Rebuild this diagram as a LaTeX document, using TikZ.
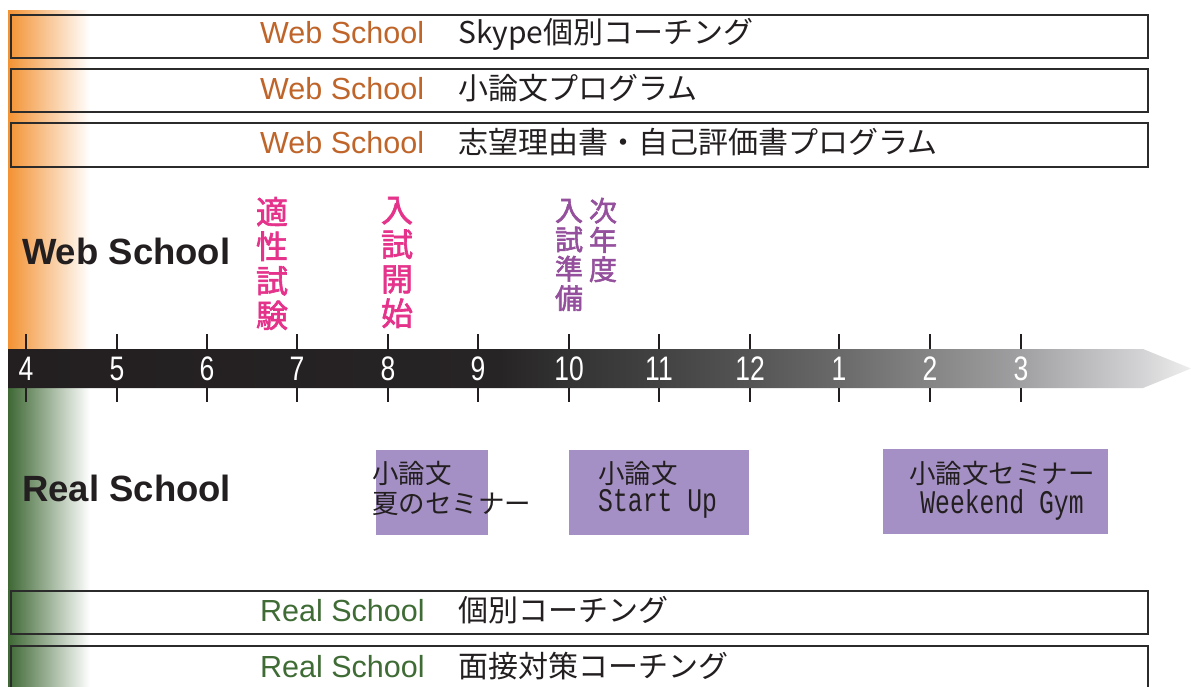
\documentclass[tikz,border=0pt]{standalone}
\usepackage{fontspec}
\setmainfont{Liberation Sans}
\newfontfamily\cjk{Noto Sans CJK JP}
\newfontfamily\cjkbold{Noto Sans CJK JP}[FakeBold=2]
\newfontfamily\numfont{Liberation Sans}[FakeStretch=0.78]
\newfontfamily\monofnt{Liberation Mono}[FakeStretch=0.75]
\definecolor{inkblack}{HTML}{231F20}
\definecolor{boxgray}{HTML}{2B2B2B}
\definecolor{weborange}{HTML}{C0652A}
\definecolor{realgreen}{HTML}{3F6B35}
\definecolor{bandorange}{HTML}{F39233}
\definecolor{bandgreen}{HTML}{3E6834}
\definecolor{hotpink}{HTML}{E5338B}
\definecolor{plum}{HTML}{94509C}
\definecolor{lavender}{HTML}{A590C5}
\definecolor{tb0}{HTML}{231F20}
\definecolor{tb1}{HTML}{272425}
\definecolor{tb2}{HTML}{333333}
\definecolor{tb3}{HTML}{424242}
\definecolor{tb4}{HTML}{555555}
\definecolor{tb5}{HTML}{6A6A6A}
\definecolor{tb6}{HTML}{858585}
\definecolor{tb7}{HTML}{A0A0A2}
\definecolor{tb8}{HTML}{D4D4D6}
\definecolor{tb9}{HTML}{EEEEEE}
\pgfdeclarehorizontalshading{timebar}{100bp}{color(0bp)=(tb0); color(25bp)=(tb0); color(45.8bp)=(tb1); color(48.7bp)=(tb2); color(52.5bp)=(tb3); color(56.4bp)=(tb4); color(60.2bp)=(tb5); color(64bp)=(tb6); color(67.8bp)=(tb7); color(73bp)=(tb8); color(75bp)=(tb9); color(100bp)=(tb9)}
\begin{document}
\begin{tikzpicture}[x=1pt,y=-1pt,
  rowbox/.style={draw=boxgray, line width=1.8pt, minimum width=1137, anchor=north west, inner sep=0},
  pbox/.style={fill=lavender, anchor=north west, inner sep=0},
  websch/.style={font=\fontsize{30.5}{36}\selectfont, text=weborange, anchor=base west, inner sep=0},
  realsch/.style={font=\fontsize{30.5}{36}\selectfont, text=realgreen, anchor=base west, inner sep=0},
  jp/.style={font=\cjk\fontsize{30}{36}\selectfont, text=inkblack, anchor=base west, inner sep=0},
  jpbox/.style={font=\cjk\fontsize{26.5}{30}\selectfont, text=inkblack, inner sep=0},
  monobox/.style={font=\monofnt\fontsize{33}{36}\selectfont, text=inkblack, inner sep=0},
  big/.style={font=\bfseries\fontsize{36.5}{40}\selectfont, text=inkblack, anchor=base west, inner sep=0},
  tickmark/.style={line width=1.2pt, draw=inkblack},
  num/.style={font=\numfont\fontsize{34}{36}\selectfont, text=white, inner sep=0},
  vpink/.style={font=\cjkbold\fontsize{32}{34.5}\selectfont, text=hotpink, align=center, inner sep=0},
  vplum/.style={font=\cjkbold\fontsize{28}{29.3}\selectfont, text=plum, align=center, inner sep=0}]
\clip (0,0) rectangle (1191,686);
\fill[white] (0,0) rectangle (1191,686);
% gradient bands
\fill[left color=bandorange, middle color=bandorange!55, right color=white] (8,10) rectangle (90,349);
\fill[left color=bandgreen, middle color=bandgreen!55, right color=white] (8,388) rectangle (90,690);
% Web School rows
\node[rowbox, minimum height=43] (b1) at (10,14) {};
\node[rowbox, minimum height=43] (b2) at (10,68) {};
\node[rowbox, minimum height=44] (b3) at (10,122) {};
\node[websch] (w1) at (260,43) {Web School};
\node[websch] (w2) at (260,99) {Web School};
\node[websch] (w3) at (260,153) {Web School};
\node[jp] (j1) at (458,43) {Skype個別コーチング};
\node[jp] (j2) at (458,99) {小論文プログラム};
\node[jp] (j3) at (458,153) {志望理由書・自己評価書プログラム};
% Real School rows
\node[rowbox, minimum height=43] (b4) at (10,590) {};
\node[rowbox, minimum height=60] (b5) at (10,645) {};
\node[realsch] (r1) at (260,621) {Real School};
\node[realsch] (r2) at (260,677) {Real School};
\node[jp] (j4) at (458,621) {個別コーチング};
\node[jp] (j5) at (458,677) {面接対策コーチング};
% big labels
\node[big] (webl) at (22,264) {Web School};
\node[big] (reall) at (22,501) {Real School};
% vertical labels
\node[vpink] (v1) at (272,263.5) {適\\性\\試\\験};
\node[vpink] (v2) at (397,262.5) {入\\試\\開\\始};
\node[vplum] (v3) at (569,255) {入\\試\\準\\備};
\node[vplum] (v4) at (603,240) {次\\年\\度};
% timeline bar
\path[shading=timebar] (8,349) -- (1143,349) -- (1191,368.5) -- (1143,388) -- (8,388) -- cycle;
\foreach \x/\l in {26/4,117/5,207/6,297/7,388/8,478/9,569/10,659/11,750/12,839/1,930/2,1021/3} {
  \draw[tickmark] (\x,334) -- (\x,349);
  \draw[tickmark] (\x,388) -- (\x,402);
  \node[num] (n\l) at (\x,369) {\l};
}
% purple boxes
\node[pbox, minimum width=112, minimum height=85] (p1) at (376,450) {};
\node[pbox, minimum width=180, minimum height=85] (p2) at (569,450) {};
\node[pbox, minimum width=225, minimum height=85] (p3) at (883,449) {};
\node[jpbox, anchor=base west] (p1a) at (372,483) {小論文};
\node[jpbox, anchor=base west] (p1b) at (372,513) {夏のセミナー};
\node[jpbox, anchor=base west] (p2a) at (598,483) {小論文};
\node[monobox, anchor=base west] (p2b) at (598,511) {Start Up};
\node[jpbox, anchor=base] (p3a) at (1002,483) {小論文セミナー};
\node[monobox, anchor=base] (p3b) at (1002,513) {Weekend Gym};
\end{tikzpicture}
\end{document}
